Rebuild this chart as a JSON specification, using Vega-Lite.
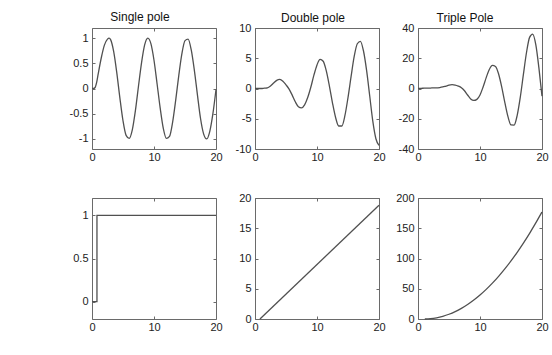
{
  "$schema": "https://vega.github.io/schema/vega-lite/v6.json",
  "padding": {"left": 68, "top": 10, "right": 5, "bottom": 5},
  "background": "white",
  "config": {
    "font": "Liberation Sans",
    "view": {"stroke": "#6a6a6a", "strokeWidth": 1},
    "axis": {"grid": false, "domain": false, "tickSize": -3, "tickColor": "#6a6a6a", "labelFont": "Liberation Sans", "labelFontSize": 11, "labelColor": "#222222", "labelFlush": false, "labelOverlap": false},
    "axisY": {"labelPadding": 7},
    "axisX": {"labelPadding": 5},
    "title": {"font": "Liberation Sans", "fontSize": 12, "fontWeight": "normal", "color": "#111111", "offset": 4}
  },
  "datasets": {
    "d": [
      {"p":"s1","t":0,"v":0},{"p":"s1","t":0.25,"v":0},{"p":"s1","t":0.5,"v":0.02},{"p":"s1","t":0.75,"v":0.12},{"p":"s1","t":1,"v":0.29},{"p":"s1","t":1.5,"v":0.61},{"p":"s1","t":2,"v":0.86},{"p":"s1","t":2.5,"v":0.98},{"p":"s1","t":2.75,"v":1.0},{"p":"s1","t":3,"v":0.97},{"p":"s1","t":3.5,"v":0.73},{"p":"s1","t":4,"v":0.31},{"p":"s1","t":4.5,"v":-0.19},{"p":"s1","t":5,"v":-0.64},{"p":"s1","t":5.5,"v":-0.93},{"p":"s1","t":6,"v":-0.99},{"p":"s1","t":6.5,"v":-0.82},{"p":"s1","t":7,"v":-0.44},{"p":"s1","t":7.5,"v":0.05},{"p":"s1","t":8,"v":0.52},{"p":"s1","t":8.5,"v":0.87},{"p":"s1","t":9,"v":1.0},{"p":"s1","t":9.5,"v":0.89},{"p":"s1","t":10,"v":0.56},{"p":"s1","t":10.5,"v":0.09},{"p":"s1","t":11,"v":-0.39},{"p":"s1","t":11.5,"v":-0.79},{"p":"s1","t":12,"v":-0.99},{"p":"s1","t":12.5,"v":-0.95},{"p":"s1","t":13,"v":-0.67},{"p":"s1","t":13.5,"v":-0.23},{"p":"s1","t":14,"v":0.26},{"p":"s1","t":14.5,"v":0.69},{"p":"s1","t":15,"v":0.95},{"p":"s1","t":15.5,"v":0.98},{"p":"s1","t":16,"v":0.77},{"p":"s1","t":16.5,"v":0.37},{"p":"s1","t":17,"v":-0.12},{"p":"s1","t":17.5,"v":-0.59},{"p":"s1","t":18,"v":-0.9},{"p":"s1","t":18.5,"v":-1.0},{"p":"s1","t":19,"v":-0.85},{"p":"s1","t":19.5,"v":-0.5},{"p":"s1","t":20,"v":-0.02},
      {"p":"s2","t":0,"v":0},{"p":"s2","t":0.5,"v":0},{"p":"s2","t":1,"v":0},{"p":"s2","t":1.5,"v":0.05},{"p":"s2","t":2,"v":0.1},{"p":"s2","t":2.5,"v":0.4},{"p":"s2","t":3,"v":0.9},{"p":"s2","t":3.5,"v":1.35},{"p":"s2","t":4,"v":1.5},{"p":"s2","t":4.5,"v":1.2},{"p":"s2","t":5,"v":0.6},{"p":"s2","t":5.5,"v":-0.1},{"p":"s2","t":6,"v":-1.1},{"p":"s2","t":6.5,"v":-2.2},{"p":"s2","t":7,"v":-3.0},{"p":"s2","t":7.5,"v":-3.2},{"p":"s2","t":8,"v":-2.7},{"p":"s2","t":8.5,"v":-1.5},{"p":"s2","t":9,"v":0.2},{"p":"s2","t":9.5,"v":2.2},{"p":"s2","t":10,"v":3.9},{"p":"s2","t":10.5,"v":4.8},{"p":"s2","t":11,"v":4.5},{"p":"s2","t":11.5,"v":2.9},{"p":"s2","t":12,"v":0.4},{"p":"s2","t":12.5,"v":-2.4},{"p":"s2","t":13,"v":-4.8},{"p":"s2","t":13.5,"v":-6.2},{"p":"s2","t":14,"v":-6.2},{"p":"s2","t":14.5,"v":-4.5},{"p":"s2","t":15,"v":-1.5},{"p":"s2","t":15.5,"v":2.0},{"p":"s2","t":16,"v":5.3},{"p":"s2","t":16.5,"v":7.4},{"p":"s2","t":17,"v":7.8},{"p":"s2","t":17.5,"v":6.2},{"p":"s2","t":18,"v":3.0},{"p":"s2","t":18.5,"v":-1.2},{"p":"s2","t":19,"v":-5.4},{"p":"s2","t":19.5,"v":-8.3},{"p":"s2","t":20,"v":-9.4},
      {"p":"s3","t":0,"v":0},{"p":"s3","t":0.5,"v":0.1},{"p":"s3","t":1,"v":0.2},{"p":"s3","t":1.5,"v":0.3},{"p":"s3","t":2,"v":0.3},{"p":"s3","t":2.5,"v":0.4},{"p":"s3","t":3,"v":0.4},{"p":"s3","t":3.5,"v":0.6},{"p":"s3","t":4,"v":1.0},{"p":"s3","t":4.5,"v":1.6},{"p":"s3","t":5,"v":2.2},{"p":"s3","t":5.5,"v":2.5},{"p":"s3","t":6,"v":2.3},{"p":"s3","t":6.5,"v":1.6},{"p":"s3","t":7,"v":0.5},{"p":"s3","t":7.5,"v":-1.5},{"p":"s3","t":8,"v":-4.3},{"p":"s3","t":8.5,"v":-6.9},{"p":"s3","t":9,"v":-7.9},{"p":"s3","t":9.5,"v":-7.2},{"p":"s3","t":10,"v":-4.3},{"p":"s3","t":10.5,"v":1.0},{"p":"s3","t":11,"v":7.2},{"p":"s3","t":11.5,"v":12.6},{"p":"s3","t":12,"v":15.3},{"p":"s3","t":12.5,"v":14.6},{"p":"s3","t":13,"v":9.6},{"p":"s3","t":13.5,"v":1.1},{"p":"s3","t":14,"v":-9.1},{"p":"s3","t":14.5,"v":-18.4},{"p":"s3","t":15,"v":-24.1},{"p":"s3","t":15.5,"v":-24.2},{"p":"s3","t":16,"v":-17.7},{"p":"s3","t":16.5,"v":-5.7},{"p":"s3","t":17,"v":9.3},{"p":"s3","t":17.5,"v":23.8},{"p":"s3","t":18,"v":33.8},{"p":"s3","t":18.5,"v":36.0},{"p":"s3","t":19,"v":29.0},{"p":"s3","t":19.5,"v":13.6},{"p":"s3","t":20,"v":-5.0},
      {"p":"b1","t":0,"v":0},{"p":"b1","t":0.8,"v":0},{"p":"b1","t":0.8,"v":1},{"p":"b1","t":20,"v":1},
      {"p":"b2","t":0.8,"v":0},{"p":"b2","t":20,"v":18.8},
      {"p":"b3","t":1.1,"v":0},{"p":"b3","t":2,"v":0.49},{"p":"b3","t":3,"v":1.96},{"p":"b3","t":4,"v":4.41},{"p":"b3","t":5,"v":7.84},{"p":"b3","t":6,"v":12.25},{"p":"b3","t":7,"v":17.64},{"p":"b3","t":8,"v":24.01},{"p":"b3","t":9,"v":31.36},{"p":"b3","t":10,"v":39.69},{"p":"b3","t":11,"v":49},{"p":"b3","t":12,"v":59.29},{"p":"b3","t":13,"v":70.56},{"p":"b3","t":14,"v":82.81},{"p":"b3","t":15,"v":96.04},{"p":"b3","t":16,"v":110.25},{"p":"b3","t":17,"v":125.44},{"p":"b3","t":18,"v":141.61},{"p":"b3","t":19,"v":158.76},{"p":"b3","t":20,"v":176.89}
    ]
  },
  "data": {"name": "d"},
  "bounds": "flush",
  "spacing": {"row": 49, "column": 39},
  "columns": 3,
  "concat": [
    {
      "title": {"text": "Single pole", "dx": -14},
      "width": 124, "height": 121,
      "transform": [{"filter": "datum.p == 's1'"}],
      "layer": [
        {"mark": {"type": "line", "color": "#505050", "strokeWidth": 1.3, "interpolate": "monotone"},
         "encoding": {
           "x": {"field": "t", "type": "quantitative", "title": null, "scale": {"domain": [0, 20], "nice": false}, "axis": {"values": [0, 10, 20]}},
           "y": {"field": "v", "type": "quantitative", "title": null, "scale": {"domain": [-1.2, 1.2], "nice": false, "zero": false}, "axis": {"values": [-1, -0.5, 0, 0.5, 1], "labelExpr": "'' + datum.value"}}
         }},
        {"mark": {"type": "line", "opacity": 0},
         "encoding": {
           "x": {"field": "t", "type": "quantitative", "title": null, "axis": {"orient": "top", "values": [0, 10, 20], "labels": false}},
           "y": {"field": "v", "type": "quantitative", "title": null, "axis": {"orient": "right", "values": [-1, -0.5, 0, 0.5, 1], "labels": false}}
         }}
      ],
      "resolve": {"axis": {"x": "independent", "y": "independent"}}
    },
    {
      "title": {"text": "Double pole", "dx": -4, "dy": 7},
      "width": 124, "height": 121,
      "transform": [{"filter": "datum.p == 's2'"}],
      "layer": [
        {"mark": {"type": "line", "color": "#505050", "strokeWidth": 1.3, "interpolate": "monotone"},
         "encoding": {
           "x": {"field": "t", "type": "quantitative", "title": null, "scale": {"domain": [0, 20], "nice": false}, "axis": {"values": [0, 10, 20]}},
           "y": {"field": "v", "type": "quantitative", "title": null, "scale": {"domain": [-10, 10], "nice": false, "zero": false}, "axis": {"values": [-10, -5, 0, 5, 10], "labelExpr": "'' + datum.value"}}
         }},
        {"mark": {"type": "line", "opacity": 0},
         "encoding": {
           "x": {"field": "t", "type": "quantitative", "title": null, "axis": {"orient": "top", "values": [0, 10, 20], "labels": false}},
           "y": {"field": "v", "type": "quantitative", "title": null, "axis": {"orient": "right", "values": [-10, -5, 0, 5, 10], "labels": false}}
         }}
      ],
      "resolve": {"axis": {"x": "independent", "y": "independent"}}
    },
    {
      "title": {"text": "Triple Pole", "dx": -15, "dy": 7},
      "width": 124, "height": 121,
      "transform": [{"filter": "datum.p == 's3'"}],
      "layer": [
        {"mark": {"type": "line", "color": "#505050", "strokeWidth": 1.3, "interpolate": "monotone"},
         "encoding": {
           "x": {"field": "t", "type": "quantitative", "title": null, "scale": {"domain": [0, 20], "nice": false}, "axis": {"values": [0, 10, 20]}},
           "y": {"field": "v", "type": "quantitative", "title": null, "scale": {"domain": [-40, 40], "nice": false, "zero": false}, "axis": {"values": [-40, -20, 0, 20, 40], "labelExpr": "'' + datum.value"}}
         }},
        {"mark": {"type": "line", "opacity": 0},
         "encoding": {
           "x": {"field": "t", "type": "quantitative", "title": null, "axis": {"orient": "top", "values": [0, 10, 20], "labels": false}},
           "y": {"field": "v", "type": "quantitative", "title": null, "axis": {"orient": "right", "values": [-40, -20, 0, 20, 40], "labels": false}}
         }}
      ],
      "resolve": {"axis": {"x": "independent", "y": "independent"}}
    },
    {
      "width": 124, "height": 121,
      "transform": [{"filter": "datum.p == 'b1'"}],
      "layer": [
        {"mark": {"type": "line", "color": "#505050", "strokeWidth": 1.3},
         "encoding": {
           "x": {"field": "t", "type": "quantitative", "title": null, "scale": {"domain": [0, 20], "nice": false}, "axis": {"values": [0, 10, 20]}},
           "y": {"field": "v", "type": "quantitative", "title": null, "scale": {"domain": [-0.2, 1.2], "nice": false, "zero": false}, "axis": {"values": [0, 0.5, 1], "labelExpr": "'' + datum.value"}},
           "order": {"field": "t"}
         }},
        {"mark": {"type": "line", "opacity": 0},
         "encoding": {
           "x": {"field": "t", "type": "quantitative", "title": null, "axis": {"orient": "top", "values": [0, 10, 20], "labels": false}},
           "y": {"field": "v", "type": "quantitative", "title": null, "axis": {"orient": "right", "values": [0, 0.5, 1], "labels": false}}
         }}
      ],
      "resolve": {"axis": {"x": "independent", "y": "independent"}}
    },
    {
      "width": 124, "height": 121,
      "transform": [{"filter": "datum.p == 'b2'"}],
      "layer": [
        {"mark": {"type": "line", "color": "#505050", "strokeWidth": 1.3},
         "encoding": {
           "x": {"field": "t", "type": "quantitative", "title": null, "scale": {"domain": [0, 20], "nice": false}, "axis": {"values": [0, 10, 20]}},
           "y": {"field": "v", "type": "quantitative", "title": null, "scale": {"domain": [0, 20], "nice": false}, "axis": {"values": [0, 5, 10, 15, 20], "labelExpr": "'' + datum.value"}}
         }},
        {"mark": {"type": "line", "opacity": 0},
         "encoding": {
           "x": {"field": "t", "type": "quantitative", "title": null, "axis": {"orient": "top", "values": [0, 10, 20], "labels": false}},
           "y": {"field": "v", "type": "quantitative", "title": null, "axis": {"orient": "right", "values": [0, 5, 10, 15, 20], "labels": false}}
         }}
      ],
      "resolve": {"axis": {"x": "independent", "y": "independent"}}
    },
    {
      "width": 124, "height": 121,
      "transform": [{"filter": "datum.p == 'b3'"}],
      "layer": [
        {"mark": {"type": "line", "color": "#505050", "strokeWidth": 1.3, "interpolate": "monotone"},
         "encoding": {
           "x": {"field": "t", "type": "quantitative", "title": null, "scale": {"domain": [0, 20], "nice": false}, "axis": {"values": [0, 10, 20]}},
           "y": {"field": "v", "type": "quantitative", "title": null, "scale": {"domain": [0, 200], "nice": false}, "axis": {"values": [0, 50, 100, 150, 200], "labelExpr": "'' + datum.value"}}
         }},
        {"mark": {"type": "line", "opacity": 0},
         "encoding": {
           "x": {"field": "t", "type": "quantitative", "title": null, "axis": {"orient": "top", "values": [0, 10, 20], "labels": false}},
           "y": {"field": "v", "type": "quantitative", "title": null, "axis": {"orient": "right", "values": [0, 50, 100, 150, 200], "labels": false}}
         }}
      ],
      "resolve": {"axis": {"x": "independent", "y": "independent"}}
    }
  ]
}
